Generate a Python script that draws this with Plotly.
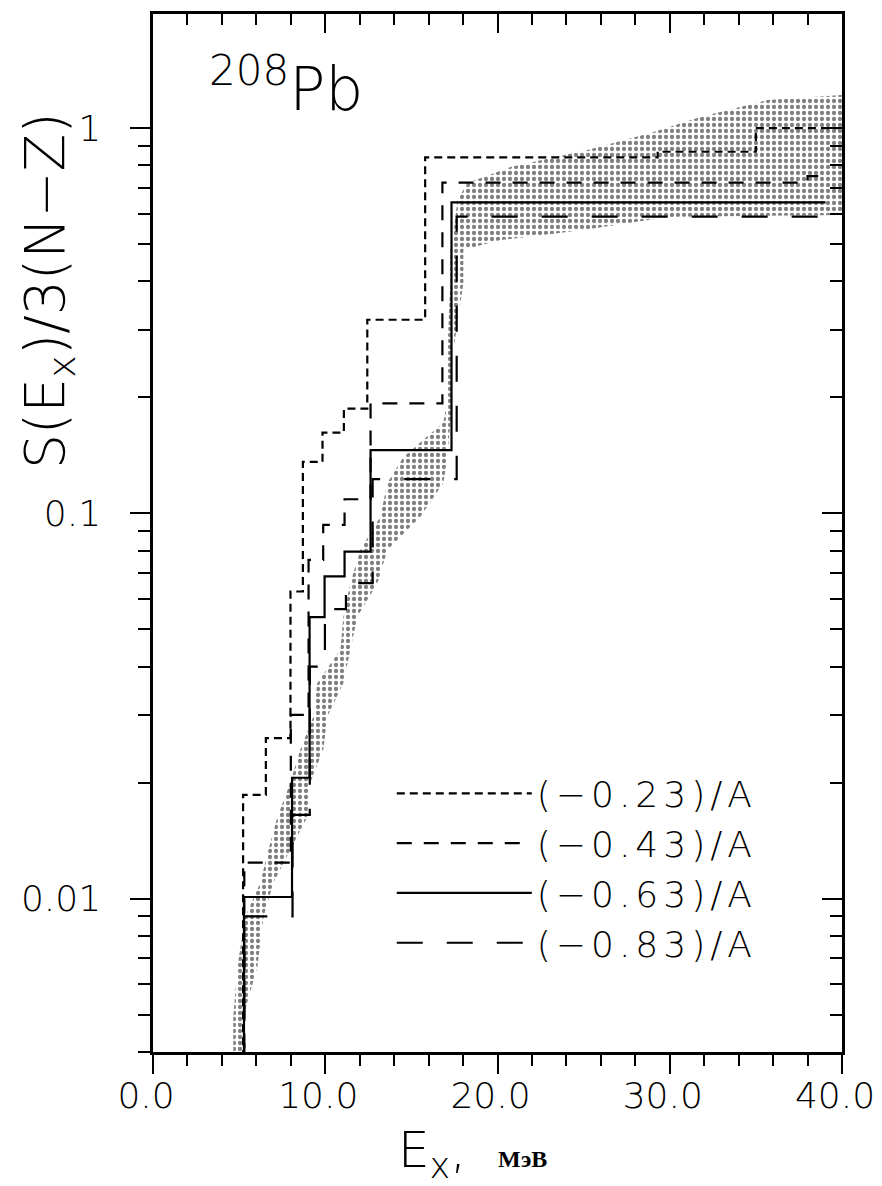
import math
import plotly.graph_objects as go

# ---------------- data ----------------
# cumulative strength step curves: excitation energy of each step (MeV) and level after it
e_023 = [5.23, 6.55, 7.98, 8.70, 9.84, 11.08, 12.44, 15.80, 29.3, 35.0]
s_023 = [0.0186, 0.0261, 0.0627, 0.136, 0.162, 0.187, 0.318, 0.839, 0.868, 1.00]
end_023 = 39.8

e_043 = [5.30, 8.00, 9.03, 9.88, 11.12, 12.63, 16.80, 38.0]
s_043 = [0.0124, 0.030, 0.0757, 0.0934, 0.1088, 0.193, 0.722, 0.75]
end_043 = 39.3

e_063 = [5.28, 8.07, 9.09, 9.96, 11.12, 12.63, 17.33]
s_063 = [0.0101, 0.0206, 0.0538, 0.0686, 0.0796, 0.146, 0.641]
end_063 = 39.05

e_083 = [5.30, 8.10, 9.10, 9.98, 11.20, 12.75, 17.63]
s_083 = [0.009, 0.0165, 0.040, 0.0564, 0.0659, 0.1227, 0.589]
end_083 = 39.0

floor_level = 1e-4  # strength before the first state (below the visible range)

# dotted cloud outline: left/upper edge going up, then right/lower edge coming down
cloud_left_x = [4.66, 4.66, 4.90, 5.36, 6.23, 6.70, 7.22, 7.97, 8.55, 9.31, 9.54, 10.88,
                11.05, 11.46, 12.04, 13.20, 13.61, 14.54, 16.86, 17.09, 17.09, 17.26,
                17.26, 17.44, 17.56, 17.67, 18.25, 20.75, 25.22, 28.88, 31.78, 35.67, 40.0]
cloud_left_y = [0.00401, 0.00494, 0.00667, 0.00898, 0.0110, 0.0134, 0.0163, 0.0200,
                0.0244, 0.0297, 0.0363, 0.0443, 0.0539, 0.0660, 0.0804, 0.0980, 0.120,
                0.140, 0.172, 0.197, 0.265, 0.396, 0.483, 0.534, 0.588, 0.650, 0.720,
                0.792, 0.877, 0.971, 1.068, 1.182, 1.218]
cloud_right_x = [40.0, 29.87, 24.99, 20.17, 18.02, 18.02, 17.44, 17.44, 17.26, 17.09,
                 16.86, 15.52, 13.61, 13.03, 11.86, 11.46, 11.05, 10.12, 9.89, 9.13,
                 8.96, 7.97, 6.99, 6.41, 6.06, 5.24, 5.24]
cloud_right_y = [0.595, 0.588, 0.544, 0.512, 0.483, 0.396, 0.265, 0.197, 0.172, 0.140,
                 0.120, 0.0980, 0.0804, 0.0660, 0.0539, 0.0443, 0.0363, 0.0297, 0.0244,
                 0.0200, 0.0163, 0.0134, 0.0110, 0.00898, 0.00667, 0.00494, 0.00401]

series_names = ["(−0.23)/A", "(−0.43)/A", "(−0.63)/A", "(−0.83)/A"]

x_tick_vals = [0, 10, 20, 30, 40]
x_tick_text = ["0.0", "10.0", "20.0", "30.0", "40.0"]
x_minor_vals = [0, 2, 4, 6, 8, 10, 12, 14, 16, 18, 20, 22, 24, 26, 28, 30, 32, 34, 36, 38, 40]
y_tick_vals = [0.01, 0.1, 1]
y_tick_text = ["0.01", "0.1", "1"]
y_minor_vals = [0.004, 0.005, 0.006, 0.007, 0.008, 0.009,
                0.02, 0.03, 0.04, 0.05, 0.06, 0.07, 0.08, 0.09,
                0.2, 0.3, 0.4, 0.5, 0.6, 0.7, 0.8, 0.9, 2]
x_range = [0, 40]
y_min, y_max = 0.004, 1.977

FONT = "DejaVu Sans"


def steps(e, s, end):
    xs = [e[0]] + list(e) + [end]
    ys = [floor_level] + list(s) + [s[-1]]
    return xs, ys


fig = go.Figure()

# dotted cloud
fig.add_trace(go.Scatter(
    x=cloud_left_x + cloud_right_x,
    y=cloud_left_y + cloud_right_y,
    mode="lines", fill="toself", line=dict(width=0, color="rgba(0,0,0,0)"),
    fillcolor="rgba(0,0,0,0)",
    fillpattern=dict(shape=".", size=6, solidity=0.4, fgcolor="black",
                     bgcolor="rgba(0,0,0,0)", fillmode="overlay"),
    showlegend=False, hoverinfo="skip"))

dashes = ["8px,5px", "15px,12px", "solid", "26px,24px"]
curves = [(e_023, s_023, end_023), (e_043, s_043, end_043),
          (e_063, s_063, end_063), (e_083, s_083, end_083)]
for name, (e, s, end), dash in zip(series_names, curves, dashes):
    xs, ys = steps(e, s, end)
    fig.add_trace(go.Scatter(x=xs, y=ys, mode="lines",
                             name='<span style="letter-spacing:5px">' + name + '</span>',
                             line=dict(shape="hv", color="black", width=2.2, dash=dash)))

# helper trace for the top/right (inside-tick) axes
fig.add_trace(go.Scatter(x=[None], y=[None], xaxis="x2", yaxis="y2",
                         showlegend=False, hoverinfo="skip"))

yr = [math.log10(y_min), math.log10(y_max)]
xr = [x_range[0] - 0.002, x_range[1] + 0.002]

tickfont = dict(family=FONT, size=36, color="black", weight=300)

fig.update_layout(
    width=882, height=1186,
    margin=dict(l=153, r=40, t=14, b=134, autoexpand=False),
    paper_bgcolor="white", plot_bgcolor="white",
    font=dict(family=FONT, color="black"),
    xaxis=dict(range=xr, tickmode="array", tickvals=x_tick_vals, ticktext=x_tick_text,
               ticks="outside", ticklen=19, tickwidth=2, tickcolor="black",
               minor=dict(tickmode="array", tickvals=x_minor_vals, ticks="outside",
                          ticklen=11, tickwidth=2, tickcolor="black"),
               showline=True, linewidth=2.5, linecolor="black", mirror=True,
               showgrid=False, zeroline=False, tickfont=tickfont, ticklabelstandoff=-9,
               ticklabelshift=-7, ticklabeloverflow="allow", automargin=False),
    yaxis=dict(type="log", range=yr, tickmode="array", tickvals=y_tick_vals, ticktext=y_tick_text,
               ticks="outside", ticklen=20, tickwidth=2, tickcolor="black",
               minor=dict(tickmode="array", tickvals=y_minor_vals, ticks="outside",
                          ticklen=12, tickwidth=2, tickcolor="black"),
               showline=True, linewidth=2.5, linecolor="black", mirror=True,
               showgrid=False, zeroline=False, tickfont=tickfont, ticklabelstandoff=22,
               ticklabeloverflow="allow", automargin=False),
    xaxis2=dict(overlaying="x", side="top", range=xr, tickmode="array",
                tickvals=x_tick_vals, ticks="inside", ticklen=19, tickwidth=2, tickcolor="black",
                minor=dict(tickmode="array", tickvals=x_minor_vals, ticks="inside",
                           ticklen=11, tickwidth=2, tickcolor="black"),
                showticklabels=False, showgrid=False, zeroline=False, showline=False,
                automargin=False),
    yaxis2=dict(overlaying="y", side="right", type="log", range=yr, tickmode="array",
                tickvals=y_tick_vals, ticks="inside", ticklen=20, tickwidth=2, tickcolor="black",
                minor=dict(tickmode="array", tickvals=y_minor_vals, ticks="inside",
                           ticklen=12, tickwidth=2, tickcolor="black"),
                showticklabels=False, showgrid=False, zeroline=False, showline=False,
                automargin=False),
    legend=dict(x=0.885, y=0.278, xanchor="right", yanchor="top",
                bgcolor="rgba(255,255,255,0)", borderwidth=0,
                font=dict(family=FONT, size=36, color="black", weight=300),
                itemwidth=135, tracegroupgap=0),
    showlegend=True,
)

fig.add_annotation(xref="paper", yref="paper", x=0.078, y=0.932, xanchor="left", yanchor="middle",
                   text="<sup>208</sup>Pb", showarrow=False,
                   font=dict(family=FONT, size=60, color="black", weight=300))
fig.add_annotation(xref="paper", yref="paper", x=-0.151, y=0.734, xanchor="center", yanchor="middle",
                   text="S(E<sub>x</sub>)/3(N−Z)", textangle=-90, showarrow=False,
                   font=dict(family=FONT, size=55, color="black", weight=300))
fig.add_annotation(xref="paper", yref="paper", x=0.463, y=-0.098, xanchor="center", yanchor="middle",
                   text="E<sub>x</sub>,  <span style=\"font-family:'Liberation Serif';font-size:24px;font-weight:bold\">МэВ</span>",
                   showarrow=False,
                   font=dict(family=FONT, size=50, color="black", weight=300))

fig.write_html("out.html", config={"displayModeBar": False},
               post_script="document.body.style.margin='0';document.body.style.padding='0';")
